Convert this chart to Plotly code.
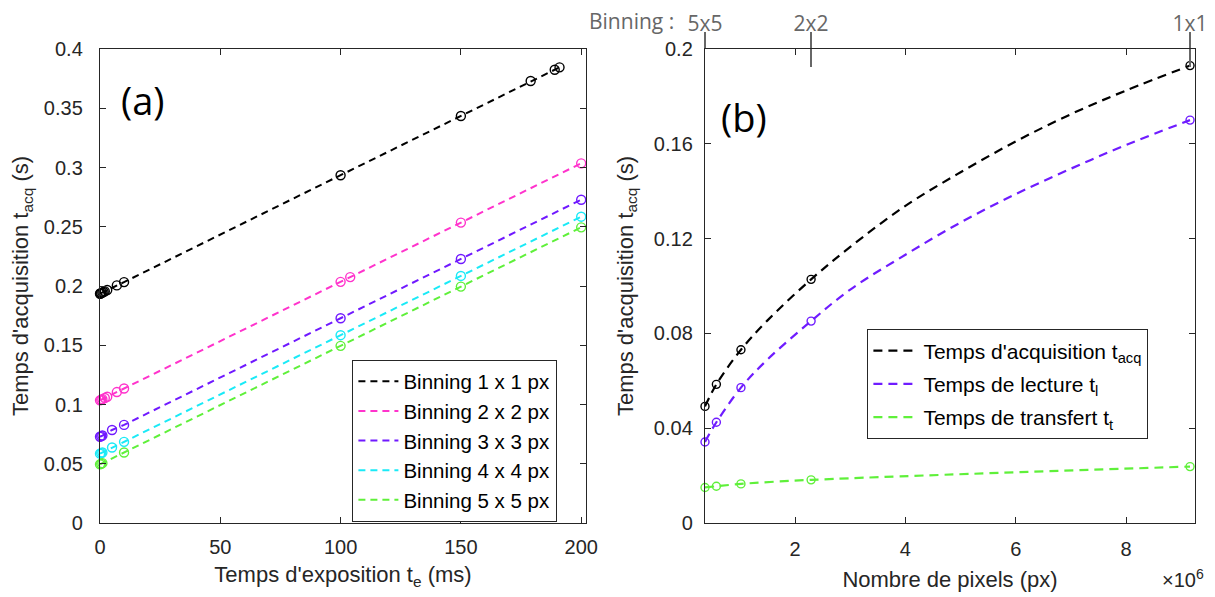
import plotly.graph_objects as go

# ---------------- Panel (a): acquisition time vs exposure time ----------------
te_1x1 = [0, 0.2, 0.5, 1, 1.5, 2, 3, 7, 10, 100, 150, 179, 189, 191]
tacq_1x1 = [0.1935, 0.1937, 0.1940, 0.1945, 0.1950, 0.1955, 0.1966, 0.2005, 0.2033,
            0.2935, 0.3435, 0.3730, 0.3825, 0.3845]
te_2x2 = [0, 0.5, 1, 2, 3, 7, 10, 100, 104, 150, 200]
tacq_2x2 = [0.1035, 0.1040, 0.1045, 0.1055, 0.1065, 0.1105, 0.1135, 0.2035, 0.2075, 0.2535, 0.3035]
te_3x3 = [0, 0.5, 1, 5, 10, 100, 150, 200]
tacq_3x3 = [0.0728, 0.0733, 0.0738, 0.0785, 0.0828, 0.1728, 0.2228, 0.2728]
te_4x4 = [0, 0.5, 1, 5, 10, 100, 150, 200]
tacq_4x4 = [0.0585, 0.0590, 0.0595, 0.0637, 0.0685, 0.1585, 0.2085, 0.2585]
te_5x5 = [0, 0.5, 1, 10, 100, 150, 200]
tacq_5x5 = [0.0495, 0.0500, 0.0505, 0.0595, 0.1495, 0.1995, 0.2495]

series_a = [
    ("Binning 1 x 1 px", te_1x1, tacq_1x1, "#000000"),
    ("Binning 2 x 2 px", te_2x2, tacq_2x2, "#ff33cc"),
    ("Binning 3 x 3 px", te_3x3, tacq_3x3, "#7019ff"),
    ("Binning 4 x 4 px", te_4x4, tacq_4x4, "#1aeaf7"),
    ("Binning 5 x 5 px", te_5x5, tacq_5x5, "#5ff03a"),
]
a_xticks = [0, 50, 100, 150, 200]
a_yticks = [0, 0.05, 0.1, 0.15, 0.2, 0.25, 0.3, 0.35, 0.4]
a_yticktext = ["0", "0.05", "0.1", "0.15", "0.2", "0.25", "0.3", "0.35", "0.4"]

# ---------------- Panel (b): times vs number of pixels ----------------
npix = [0.3664e6, 0.5725e6, 1.018e6, 2.29e6, 9.16e6]
t_acq_b = [0.0492, 0.0585, 0.0731, 0.1028, 0.1930]
t_lect = [0.0342, 0.0425, 0.0571, 0.0852, 0.1700]
t_transf = [0.0150, 0.0155, 0.0165, 0.0182, 0.0238]
# dashed fitted curves
fit_npix = [0.3664e6, 0.5725e6, 1.018e6, 1.5e6, 2.29e6, 3e6, 4e6, 5e6, 6e6, 7e6, 8e6, 9.16e6]
fit_acq = [0.0492, 0.0585, 0.0731, 0.0855, 0.1028, 0.1165, 0.1338, 0.1480, 0.1610, 0.1725, 0.1825, 0.1930]
fit_lect = [0.0342, 0.0425, 0.0571, 0.0690, 0.0852, 0.0985, 0.1132, 0.1268, 0.1388, 0.1495, 0.1595, 0.1700]
b_xticks = [2e6, 4e6, 6e6, 8e6]
b_xticktext = ["2", "4", "6", "8"]
b_yticks = [0, 0.04, 0.08, 0.12, 0.16, 0.2]
b_yticktext = ["0", "0.04", "0.08", "0.12", "0.16", "0.2"]
bin_ticks = [0.3664e6, 2.29e6, 9.16e6]
bin_text = ["5x5", "2x2", "1x1"]

FONT = "Liberation Sans, Arial, sans-serif"
SEGOE = "Open Sans, sans-serif"
AX = "#262626"
GRAY = "#676767"

# page body has an 8px margin: figure is drawn from screen pixel 8
OFF = 8
W, H = 1215 - OFF, 597 - OFF


def X(sx):
    return (sx - OFF) / W


def Y(sy):
    return 1 - (sy - OFF) / H


fig = go.Figure()

for i, (name, x, y, c) in enumerate(series_a):
    fig.add_trace(go.Scatter(x=x, y=y, mode="lines", name=name,
                             line=dict(color=c, width=2, dash="7px,5px"),
                             legend="legend", legendgroup=f"a{i}",
                             xaxis="x", yaxis="y", cliponaxis=False))
    fig.add_trace(go.Scatter(x=x, y=y, mode="markers", showlegend=False,
                             marker=dict(symbol="circle-open", size=9, color=c, line=dict(width=1.4, color=c)),
                             xaxis="x", yaxis="y", cliponaxis=False))

series_b = [
    ("Temps d'acquisition t<sub>acq</sub>", fit_npix, fit_acq, npix, t_acq_b, "#000000"),
    ("Temps de lecture t<sub>l</sub>", fit_npix, fit_lect, npix, t_lect, "#6f1cff"),
    ("Temps de transfert t<sub>t</sub>", npix, t_transf, npix, t_transf, "#5ff03a"),
]
for i, (name, fx, fy, px, py, c) in enumerate(series_b):
    fig.add_trace(go.Scatter(x=fx, y=fy, mode="lines", name=name,
                             line=dict(color=c, width=2.2, dash="9px,6px", shape="spline"),
                             legend="legend2", legendgroup=f"b{i}",
                             xaxis="x2", yaxis="y2", cliponaxis=False))
    fig.add_trace(go.Scatter(x=px, y=py, mode="markers", showlegend=False,
                             marker=dict(symbol="circle-open", size=8, color=c, line=dict(width=1.4, color=c)),
                             xaxis="x2", yaxis="y2", cliponaxis=False))

# invisible traces to carry the binning axes
for ax in ("x3", "x4"):
    fig.add_trace(go.Scatter(x=bin_ticks, y=[0.1] * len(bin_ticks), mode="markers",
                             marker=dict(opacity=0), showlegend=False, hoverinfo="skip",
                             xaxis=ax, yaxis="y2"))

ydom = [Y(523), Y(49)]
xrng_b = [0.3664e6, 9.25e6]

common = dict(showline=True, linecolor=AX, linewidth=1.4, mirror="ticks", ticks="inside",
              ticklen=6, tickwidth=1.2, tickcolor=AX, showgrid=False, zeroline=False,
              tickfont=dict(family=FONT, size=20, color=AX), automargin=False)

fig.update_layout(
    width=W, height=H, margin=dict(l=0, r=0, t=0, b=0),
    paper_bgcolor="white", plot_bgcolor="white",
    font=dict(family=FONT, color=AX),
    xaxis=dict(domain=[X(100), X(586)], range=[0, 202], tickvals=a_xticks,
               title=dict(text="Temps d'exposition t<sub>e</sub> (ms)", font=dict(size=22, color=AX), standoff=9),
               anchor="y", ticklabelstandoff=6, **common),
    yaxis=dict(domain=ydom, range=[0, 0.4], tickvals=a_yticks, ticktext=a_yticktext,
               title=dict(text="Temps d'acquisition t<sub>acq</sub> (s)", font=dict(size=22, color=AX), standoff=12),
               anchor="x", ticklabelstandoff=12, **common),
    xaxis2=dict(domain=[X(705), X(1195)], range=xrng_b, tickvals=b_xticks, ticktext=b_xticktext,
                title=dict(text="Nombre de pixels (px)", font=dict(size=22, color=AX), standoff=12),
                anchor="y2", ticklabelstandoff=8, **common),
    yaxis2=dict(domain=ydom, range=[0, 0.2], tickvals=b_yticks, ticktext=b_yticktext,
                title=dict(text="Temps d'acquisition t<sub>acq</sub> (s)", font=dict(size=22, color=AX), standoff=14),
                anchor="x2", ticklabelstandoff=7, **common),
    xaxis3=dict(overlaying="x2", side="top", anchor="y2", range=xrng_b, tickvals=bin_ticks, ticktext=bin_text,
                ticks="outside", ticklen=16, tickwidth=2, tickcolor=GRAY, showline=False, showgrid=False,
                zeroline=False, tickfont=dict(family=SEGOE, size=21, color=GRAY),
                ticklabelstandoff=-7, automargin=False),
    xaxis4=dict(overlaying="x2", side="top", anchor="y2", range=xrng_b, tickvals=bin_ticks,
                showticklabels=False, ticks="inside", ticklen=18, tickwidth=2, tickcolor=GRAY,
                showline=False, showgrid=False, zeroline=False, automargin=False),
    legend=dict(x=X(352), y=Y(360), xanchor="left", yanchor="top",
                bgcolor="white", bordercolor=AX, borderwidth=1.4,
                font=dict(family=FONT, size=20.5, color="#000000"), tracegroupgap=0,
                traceorder="grouped", itemwidth=40),
    legend2=dict(x=X(867), y=Y(329), xanchor="left", yanchor="top",
                 bgcolor="white", bordercolor=AX, borderwidth=1.4,
                 font=dict(family=FONT, size=21, color="#000000"), tracegroupgap=3,
                 traceorder="grouped", itemwidth=45),
    showlegend=True,
    annotations=[
        dict(text="(a)", x=X(143), y=Y(100), xref="paper", yref="paper", xanchor="center", yanchor="middle",
             showarrow=False, font=dict(family=SEGOE, size=38, color="#000000")),
        dict(text="(b)", x=X(744), y=Y(117), xref="paper", yref="paper", xanchor="center", yanchor="middle",
             showarrow=False, font=dict(family=SEGOE, size=38, color="#000000")),
        dict(text="Binning :", x=X(676), y=Y(21), xref="paper", yref="paper",
             xanchor="right", yanchor="middle", showarrow=False,
             font=dict(family=SEGOE, size=21, color=GRAY)),
        dict(text="×10<sup>6</sup>", x=X(1206), y=Y(578), xref="paper", yref="paper",
             xanchor="right", yanchor="middle", showarrow=False, font=dict(family=FONT, size=20, color=AX)),
    ],
)

fig.write_html("out.html")
